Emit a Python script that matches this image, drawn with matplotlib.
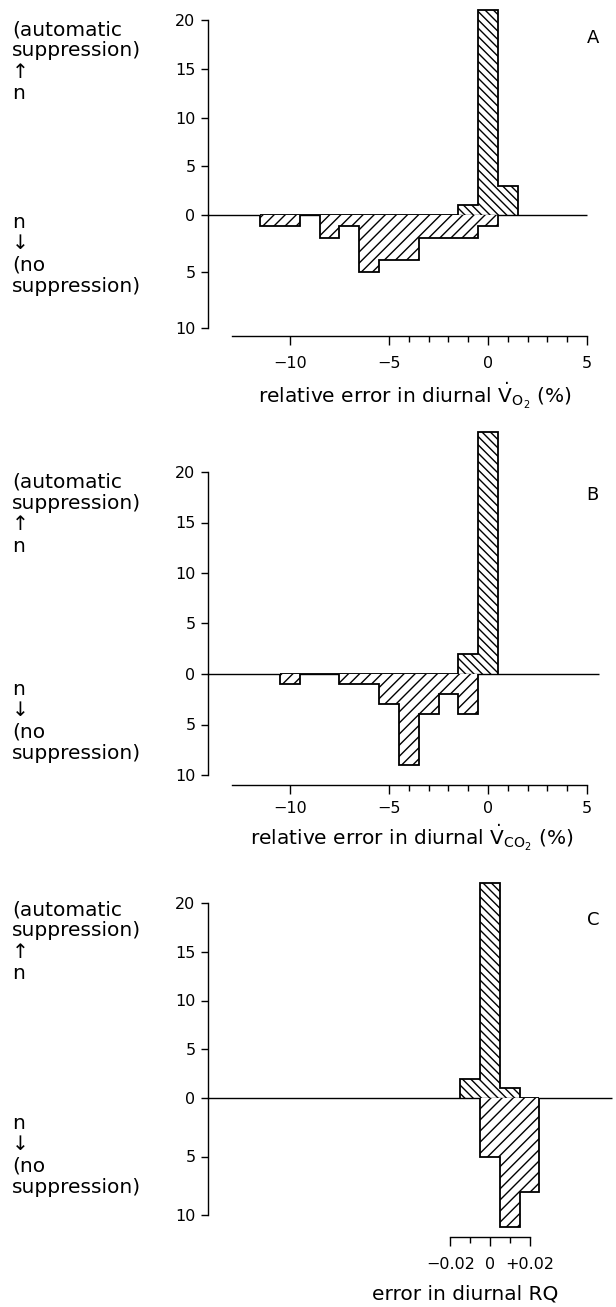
import matplotlib
matplotlib.use('Agg')
import matplotlib.pyplot as plt
import numpy as np

plt.rcParams['font.family'] = ['DejaVu Sans']
plt.rcParams['mathtext.fontset'] = 'dejavusans'
plt.rcParams['hatch.linewidth'] = 1.0

W, H = 616, 1307

# ---------------- data ----------------
# Panel A: relative error in diurnal VO2 (%), bins of 1 % centred on integers
a_edges = [-11.5, -10.5, -9.5, -8.5, -7.5, -6.5, -5.5, -4.5, -3.5, -2.5, -1.5, -0.5, 0.5, 1.5]
a_up    = [0, 0, 0, 0, 0, 0, 0, 0, 0, 0, 1, 21, 3]      # automatic suppression
a_down  = [1, 1, 0, 2, 1, 5, 4, 4, 2, 2, 2, 1, 0]       # no suppression

# Panel B: relative error in diurnal VCO2 (%)
b_edges = [-10.5, -9.5, -8.5, -7.5, -6.5, -5.5, -4.5, -3.5, -2.5, -1.5, -0.5, 0.5]
b_up    = [0, 0, 0, 0, 0, 0, 0, 0, 0, 2, 24]
b_down  = [1, 0, 0, 1, 1, 3, 9, 4, 2, 4, 0]

# Panel C: error in diurnal RQ
c_edges = [-0.015, -0.005, 0.005, 0.015, 0.025]
c_up    = [2, 22, 1, 0]
c_down  = [0, 5, 11, 8]

pct_ticks = [-10, -5, 0, 5]
pct_labels = ['\u221210', '\u22125', '0', '5']
pct_minor = [-4, -3, -2, -1, 1, 2, 3, 4]
rq_ticks = [-0.02, 0, 0.02]
rq_labels = ['\u22120.02', '0', '+0.02']
rq_minor = [-0.01, 0.01]
up_ticks = [0, 5, 10, 15, 20]
down_ticks = [5, 10]

fig = plt.figure(figsize=(W / 100, H / 100), dpi=100)


def fx(px):
    return px / W


def fy(py):
    return 1 - py / H


def panel(edges, up, down, xlim, zero_px, up_scale, down_scale, top_px, axis_px,
          xbounds, xticks, xlabels, xminor, zero_right, letter, letter_xy,
          xlabel, xlabel_xy, up_text_top, down_text_top, tick_pad):
    up_max = (zero_px - top_px) / up_scale
    down_max = (axis_px - zero_px) / down_scale
    left_px, right_px = 208, 612
    ax_up = fig.add_axes([fx(left_px), fy(zero_px), fx(right_px) - fx(left_px),
                          (zero_px - top_px) / H])
    ax_dn = fig.add_axes([fx(left_px), fy(axis_px), fx(right_px) - fx(left_px),
                          (axis_px - zero_px) / H])
    for ax in (ax_up, ax_dn):
        ax.set_facecolor('none')
        ax.set_xlim(*xlim)
        ax.spines['top'].set_visible(False)
        ax.spines['right'].set_visible(False)
        ax.spines['left'].set_linewidth(1.0)
        ax.tick_params(axis='y', direction='out', length=5, width=1.0,
                       labelsize=11.5, pad=4)
    ax_up.set_ylim(0, up_max)
    ax_dn.set_ylim(down_max, 0)
    ax_up.spines['bottom'].set_visible(False)
    ax_up.tick_params(axis='x', bottom=False, labelbottom=False)
    ax_up.spines['left'].set_bounds(0, 20)
    ax_dn.spines['left'].set_bounds(0, 10)
    ax_up.set_yticks(up_ticks)
    ax_up.set_yticklabels([str(t) for t in up_ticks])
    ax_dn.set_yticks(down_ticks)
    ax_dn.set_yticklabels([str(t) for t in down_ticks])

    ax_dn.spines['bottom'].set_bounds(*xbounds)
    ax_dn.spines['bottom'].set_linewidth(1.0)
    ax_dn.set_xticks(xticks)
    ax_dn.set_xticklabels(xlabels)
    ax_dn.set_xticks(xminor, minor=True)
    ax_dn.tick_params(axis='x', which='major', direction='out', length=6.5,
                      width=1.0, labelsize=11.5, pad=tick_pad)
    ax_dn.tick_params(axis='x', which='minor', direction='out', length=4.5,
                      width=1.0)

    ax_up.stairs(up, edges, baseline=0, fill=True, facecolor='white',
                 edgecolor='black', linewidth=1.3, hatch='\\\\\\\\', zorder=3)
    ax_dn.stairs(down, edges, baseline=0, fill=True, facecolor='white',
                 edgecolor='black', linewidth=1.3, hatch='///', zorder=3)
    ax_up.hlines(0, xlim[0], zero_right, color='black', linewidth=1.0,
                 clip_on=False, zorder=4)

    fig.text(fx(letter_xy[0]), fy(letter_xy[1]), letter, fontsize=13,
             ha='center', va='center')
    fig.text(fx(xlabel_xy[0]), fy(xlabel_xy[1]), xlabel, fontsize=14.5,
             ha='left', va='baseline')
    fig.text(fx(12), fy(up_text_top), '(automatic\nsuppression)\n\u2191\nn',
             fontsize=14.5, ha='left', va='top', linespacing=1.15)
    fig.text(fx(12), fy(down_text_top), 'n\n\u2193\n(no\nsuppression)',
             fontsize=14.5, ha='left', va='top', linespacing=1.15)


panel(a_edges, a_up, a_down, (-14.14, 6.26), 215, 9.75, 11.3, 4, 336,
      (-12.93, 5), pct_ticks, pct_labels, pct_minor, 5, 'A', (593, 38),
      r'relative error in diurnal $\dot{\mathrm{V}}_{\mathrm{O}_2}$ (%)', (258, 403),
      20, 213, 8)

panel(b_edges, b_up, b_down, (-14.14, 6.26), 674, 10.1, 10.1, 420, 785,
      (-12.93, 5), pct_ticks, pct_labels, pct_minor, 5.6, 'B', (592, 495),
      r'relative error in diurnal $\dot{\mathrm{V}}_{\mathrm{CO}_2}$ (%)', (250, 845),
      473, 680, 5)

panel(c_edges, c_up, c_down, (-0.14278, 0.06177), 1098, 9.75, 11.7, 873, 1237,
      (-0.02, 0.02), rq_ticks, rq_labels, rq_minor, 0.0617, 'C', (593, 920),
      'error in diurnal RQ', (372, 1300),
      900, 1114, 8)

fig.savefig('out.png', dpi=100)
